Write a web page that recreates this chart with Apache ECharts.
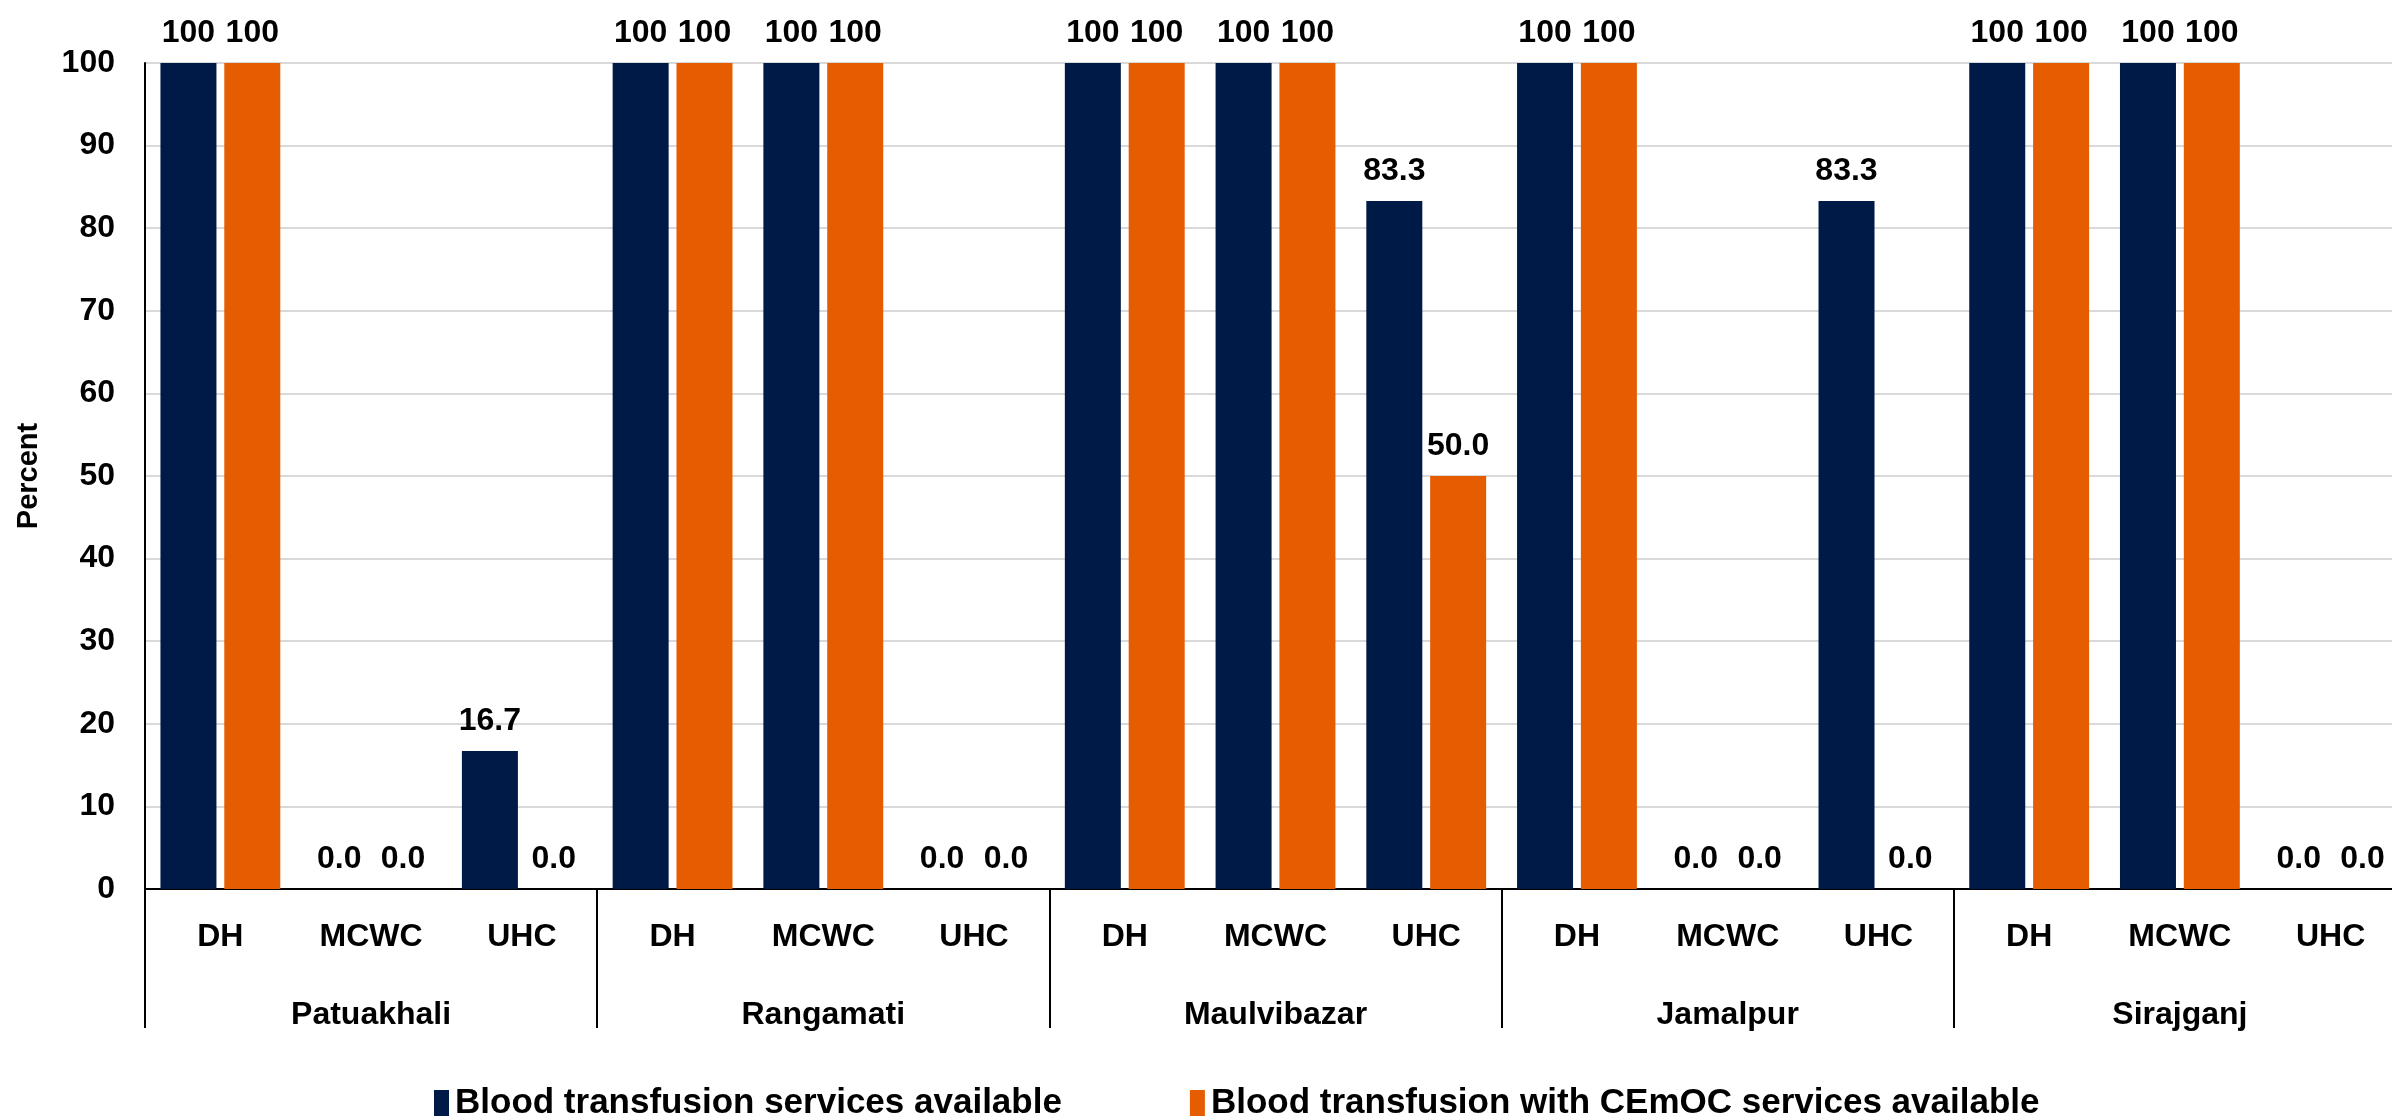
<!DOCTYPE html>
<html><head><meta charset="utf-8">
<script src="https://cdn.jsdelivr.net/npm/echarts@6/dist/echarts.min.js"></script>
<style>html,body{margin:0;padding:0;background:#fff}#c{width:2392px;height:1116px}</style>
</head><body><div id="c"></div>
<script>
const facilities = ['DH','MCWC','UHC','DH','MCWC','UHC','DH','MCWC','UHC','DH','MCWC','UHC','DH','MCWC','UHC'];
const districts = ['Patuakhali','Rangamati','Maulvibazar','Jamalpur','Sirajganj'];
const bloodTransfusion = [100,0,16.7, 100,100,0, 100,100,83.3, 100,0,83.3, 100,100,0];
const bloodWithCEmOC = [100,0,0, 100,100,0, 100,100,50.0, 100,0,0, 100,100,0];
const yTicks = [0,10,20,30,40,50,60,70,80,90,100];
const seriesNames = ['Blood transfusion services available','Blood transfusion with CEmOC services available'];

const FONT = '"Liberation Sans Narrow","Arial Narrow","Liberation Sans",Arial,sans-serif';
const FS = 32;
const fmt = p => p.value === 100 ? '100' : Number(p.value).toFixed(1);
const labelStyle = {show:true, position:'top', distance:14, formatter:fmt, fontFamily:FONT, fontWeight:'bold', fontSize:FS, color:'#000'};

const chart = echarts.init(document.getElementById('c'), null, {renderer:'canvas'});
chart.setOption({
  animation:false,
  textStyle:{fontFamily:FONT},
  grid:{left:145, right:-14, top:63, bottom:227, containLabel:false, outerBoundsMode:'none'},
  legend:{
    left:429, top:1081, itemWidth:15, itemHeight:27, itemGap:128, icon:'rect',
    textStyle:{fontFamily:FONT, fontWeight:'bold', fontSize:35, color:'#000', padding:[0,0,0,1]},
    data:seriesNames
  },
  xAxis:[
    {type:'category', data:facilities, position:'bottom',
     axisLine:{show:true, lineStyle:{color:'#000', width:2}},
     axisTick:{show:false},
     axisLabel:{margin:32, fontFamily:FONT, fontWeight:'bold', fontSize:FS, color:'#000'}},
    {type:'category', data:districts, position:'bottom', gridIndex:0,
     axisLine:{show:false},
     axisTick:{show:true, length:139, lineStyle:{color:'#000', width:2}},
     axisLabel:{margin:110, fontFamily:FONT, fontWeight:'bold', fontSize:FS, color:'#000'}}
  ],
  yAxis:{type:'value', min:0, max:100, interval:10,
    name:'Percent', nameLocation:'middle', nameGap:102, nameRotate:90,
    nameTextStyle:{fontFamily:FONT, fontWeight:'bold', fontSize:29, color:'#000'},
    axisLine:{show:true, lineStyle:{color:'#000', width:2}},
    axisTick:{show:false},
    axisLabel:{margin:30, fontFamily:FONT, fontWeight:'bold', fontSize:FS, color:'#000',
      formatter: v => yTicks.includes(v) ? String(v) : ''},
    splitLine:{show:true, lineStyle:{color:'#d9d9d9', width:2}}
  },
  series:[
    {name:seriesNames[0], type:'bar', xAxisIndex:0, data:bloodTransfusion, barWidth:56, barGap:'14%',
     itemStyle:{color:'#001A47'}, label:labelStyle},
    {name:seriesNames[1], type:'bar', xAxisIndex:0, data:bloodWithCEmOC, barWidth:56, barGap:'14%',
     itemStyle:{color:'#E65C00'}, label:labelStyle}
  ]
});
</script></body></html>
